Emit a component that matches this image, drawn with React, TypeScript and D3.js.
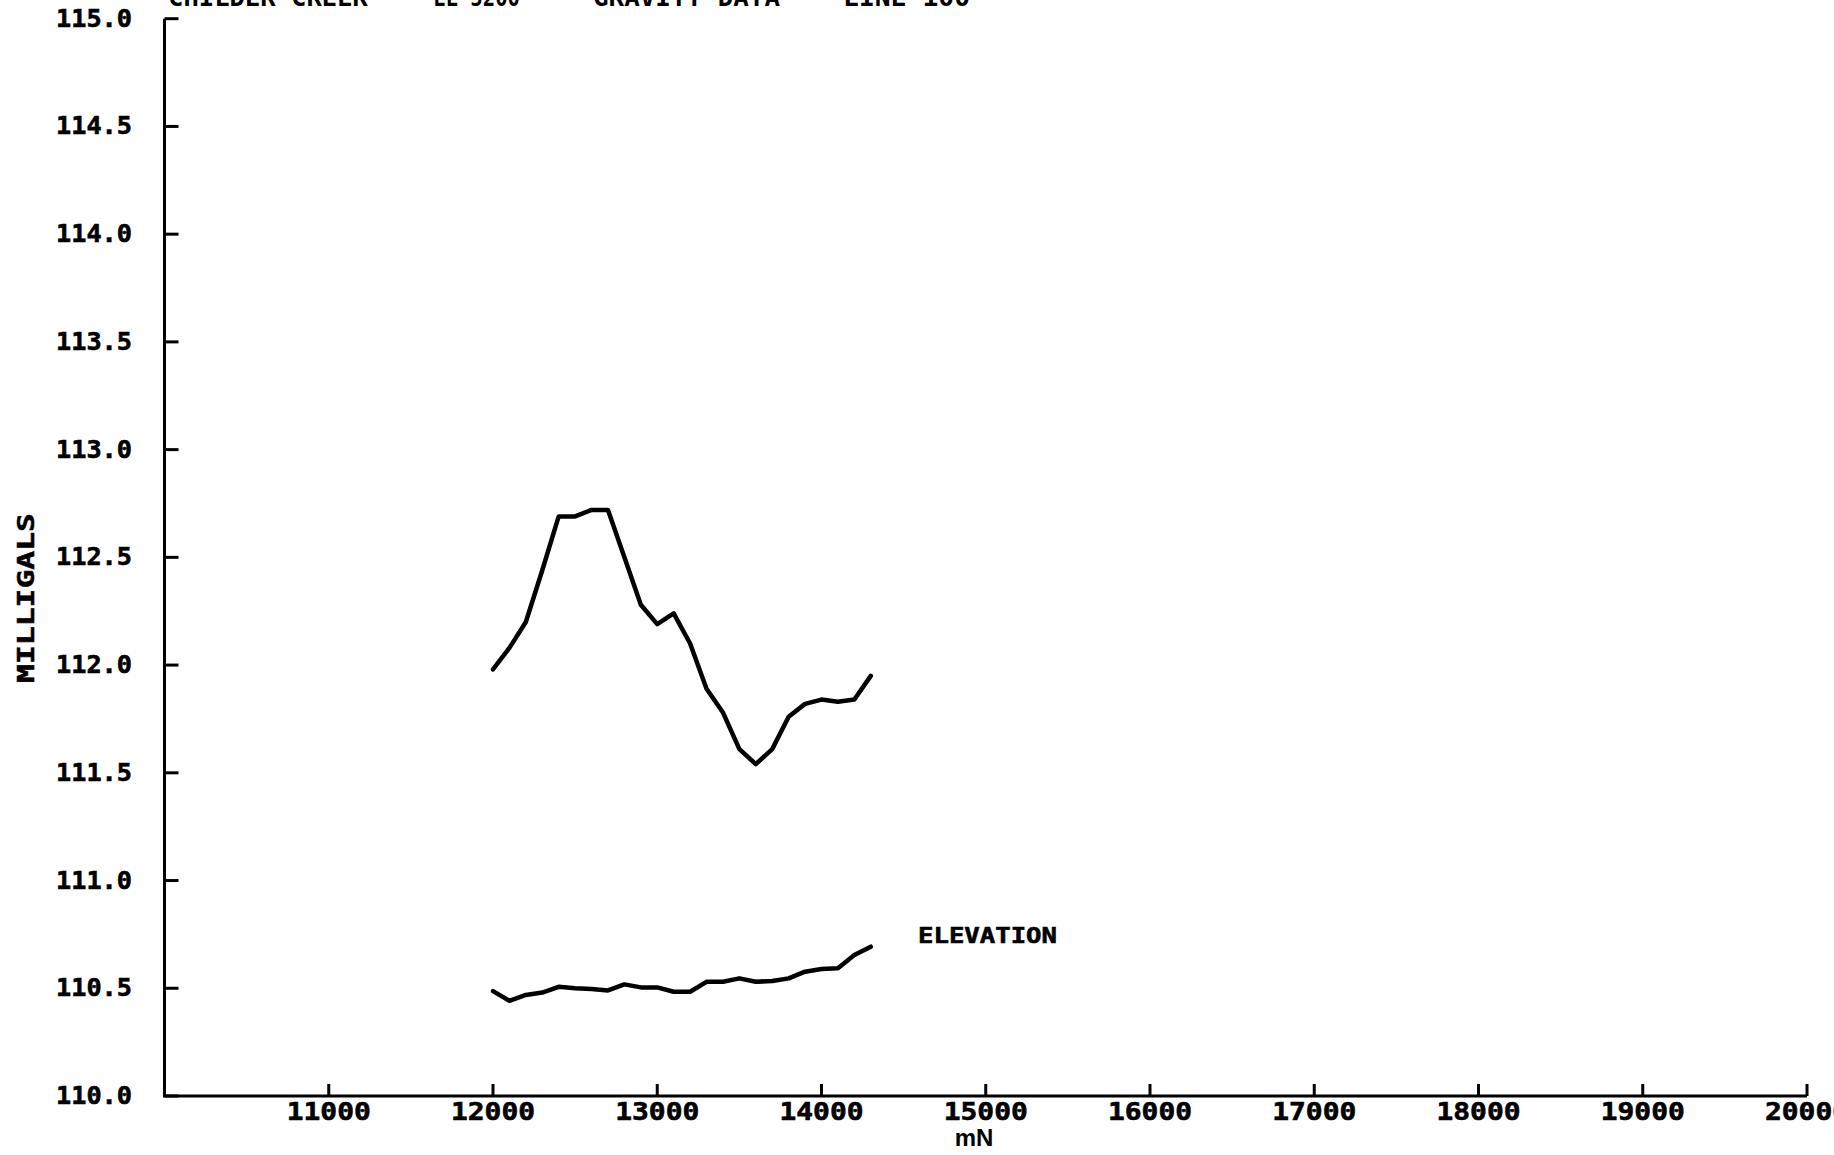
import React from "react";
import * as d3 from "d3";

const stations = [12000, 12100, 12200, 12300, 12400, 12500, 12600, 12700, 12800, 12900, 13000, 13100, 13200, 13300, 13400, 13500, 13600, 13700, 13800, 13900, 14000, 14100, 14200, 14300];
const gravity = [111.98, 112.08, 112.20, 112.44, 112.69, 112.69, 112.72, 112.72, 112.50, 112.28, 112.19, 112.24, 112.10, 111.89, 111.78, 111.61, 111.54, 111.61, 111.76, 111.82, 111.84, 111.83, 111.84, 111.95];
const elevation = [110.487, 110.442, 110.469, 110.48, 110.507, 110.50, 110.497, 110.49, 110.518, 110.504, 110.504, 110.484, 110.484, 110.53, 110.53, 110.546, 110.53, 110.534, 110.546, 110.577, 110.589, 110.593, 110.654, 110.693];

const xTicks = [11000, 12000, 13000, 14000, 15000, 16000, 17000, 18000, 19000, 20000];
const yTicks = [110.0, 110.5, 111.0, 111.5, 112.0, 112.5, 113.0, 113.5, 114.0, 114.5, 115.0];

const titleParts = ["CHILDER CREEK", "LL 5200", "GRAVITY DATA", "LINE 100"];
const titleX = [168, 433, 593, 843];
const titleW = [200, 87, 187, 127];

const W = 1834;
const H = 1155;
const MONO = "'DejaVu Sans Mono', monospace";

export default function App() {
  const x = d3.scaleLinear().domain([10000, 20000]).range([164.5, 1807]);
  const y = d3.scaleLinear().domain([110, 115]).range([1096, 18.7]);

  const line = d3
    .line<number>()
    .x((_, i) => x(stations[i]))
    .y((d) => y(d));

  const x0 = x(10000);
  const y0 = y(110);

  return (
    <svg
      width={W}
      height={H}
      viewBox={`0 0 ${W} ${H}`}
      style={{ position: "absolute", left: 0, top: 0, background: "#fff" }}
    >
      <rect x={0} y={0} width={W} height={H} fill="#fff" />
      {/* title (cut off at top, as in the scanned original) */}
      {titleParts.map((t, i) => (
        <text
          key={t}
          x={titleX[i]}
          y={6}
          fontFamily={MONO}
          fontWeight="bold"
          fontSize={24}
          textLength={titleW[i]}
          lengthAdjust="spacingAndGlyphs"
          fill="#000"
        >
          {t}
        </text>
      ))}

      {/* axes */}
      <line x1={x0} y1={y(115)} x2={x0} y2={y0} stroke="#000" strokeWidth={3} />
      <line x1={x0 - 1.5} y1={y0} x2={x(20000)} y2={y0} stroke="#000" strokeWidth={3} />

      {yTicks.map((t) => (
        <g key={t}>
          <line x1={x0} x2={x0 + 14} y1={y(t)} y2={y(t)} stroke="#000" strokeWidth={3} />
          <text
            x={132}
            y={y(t)}
            textAnchor="end"
            dominantBaseline="central"
            fontFamily={MONO}
            fontWeight="bold"
            fontSize={24}
            textLength={76}
            lengthAdjust="spacingAndGlyphs"
            fill="#000"
            stroke="#000"
            strokeWidth={0.6}
          >
            {t.toFixed(1)}
          </text>
        </g>
      ))}

      {xTicks.map((t) => (
        <g key={t}>
          <line x1={x(t)} x2={x(t)} y1={y0} y2={y0 - 12} stroke="#000" strokeWidth={3} />
          <text
            x={x(t)}
            y={1112}
            textAnchor="middle"
            dominantBaseline="central"
            fontFamily={MONO}
            fontWeight="bold"
            fontSize={24}
            textLength={84}
            lengthAdjust="spacingAndGlyphs"
            fill="#000"
            stroke="#000"
            strokeWidth={0.6}
          >
            {String(t)}
          </text>
        </g>
      ))}

      <text
        x={974}
        y={1146}
        textAnchor="middle"
        fontFamily="'Liberation Sans', Arial, sans-serif"
        fontWeight="bold"
        fontSize={24}
        fill="#000"
      >
        mN
      </text>

      <text
        transform={`translate(34, 598) rotate(-90)`}
        textAnchor="middle"
        fontFamily={MONO}
        fontWeight="bold"
        fontSize={23}
        textLength={170}
        lengthAdjust="spacingAndGlyphs"
        fill="#000"
        stroke="#000"
        strokeWidth={0.5}
      >
        MILLIGALS
      </text>

      {/* data curves */}
      <path d={line(gravity) || ""} fill="none" stroke="#000" strokeWidth={4.5} strokeLinejoin="round" strokeLinecap="round" />
      <path d={line(elevation) || ""} fill="none" stroke="#000" strokeWidth={4.5} strokeLinejoin="round" strokeLinecap="round" />

      <text
        x={918}
        y={943}
        fontFamily={MONO}
        fontWeight="bold"
        fontSize={22}
        textLength={139}
        lengthAdjust="spacingAndGlyphs"
        fill="#000"
        stroke="#000"
        strokeWidth={0.6}
      >
        ELEVATION
      </text>
    </svg>
  );
}
